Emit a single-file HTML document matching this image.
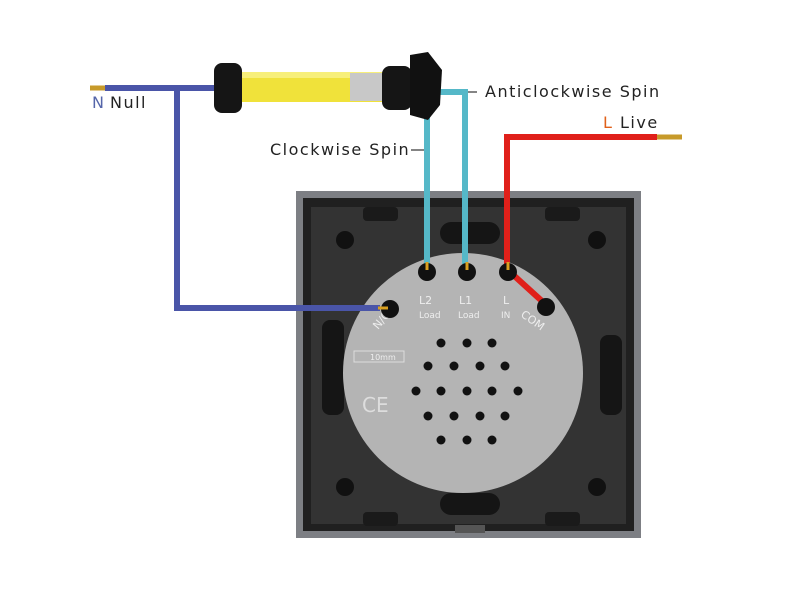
<!DOCTYPE html>
<html><head><meta charset="utf-8"><style>
html,body{margin:0;padding:0;background:#fff;}
svg{display:block;}
text{font-family:"DejaVu Sans","Liberation Sans",sans-serif;}
.lb{font-size:16px;letter-spacing:1.5px;}
</style></head><body>
<svg width="800" height="600" viewBox="0 0 800 600" xmlns="http://www.w3.org/2000/svg">
<rect x="296" y="191" width="345" height="347" fill="#7d7f84"/>
<rect x="303" y="198" width="331" height="333" fill="#202020"/>
<rect x="311" y="207" width="315" height="317" fill="#333"/>
<circle cx="345" cy="240" r="9" fill="#111"/>
<circle cx="597" cy="240" r="9" fill="#111"/>
<circle cx="345" cy="487" r="9" fill="#111"/>
<circle cx="597" cy="487" r="9" fill="#111"/>
<rect x="363" y="207" width="35" height="14" rx="4" fill="#1a1a1a"/>
<rect x="545" y="207" width="35" height="14" rx="4" fill="#1a1a1a"/>
<rect x="363" y="512" width="35" height="14" rx="4" fill="#1a1a1a"/>
<rect x="545" y="512" width="35" height="14" rx="4" fill="#1a1a1a"/>
<rect x="440" y="222" width="60" height="22" rx="11" fill="#151515"/>
<rect x="440" y="493" width="60" height="22" rx="11" fill="#151515"/>
<rect x="322" y="320" width="22" height="95" rx="8" fill="#151515"/>
<rect x="600" y="335" width="22" height="80" rx="8" fill="#151515"/>
<rect x="455" y="525" width="30" height="8" fill="#555"/>
<circle cx="463" cy="373" r="120" fill="#b4b4b4"/>
<g fill="#111">
<circle cx="441" cy="343" r="4.5"/><circle cx="467" cy="343" r="4.5"/><circle cx="492" cy="343" r="4.5"/>
<circle cx="428" cy="366" r="4.5"/><circle cx="454" cy="366" r="4.5"/><circle cx="480" cy="366" r="4.5"/><circle cx="505" cy="366" r="4.5"/>
<circle cx="416" cy="391" r="4.5"/><circle cx="441" cy="391" r="4.5"/><circle cx="467" cy="391" r="4.5"/><circle cx="492" cy="391" r="4.5"/><circle cx="518" cy="391" r="4.5"/>
<circle cx="428" cy="416" r="4.5"/><circle cx="454" cy="416" r="4.5"/><circle cx="480" cy="416" r="4.5"/><circle cx="505" cy="416" r="4.5"/>
<circle cx="441" cy="440" r="4.5"/><circle cx="467" cy="440" r="4.5"/><circle cx="492" cy="440" r="4.5"/>
</g>
<rect x="354" y="351" width="50" height="11" fill="none" stroke="#ddd" stroke-width="1"/>
<text x="370" y="360" font-size="8" fill="#eee">10mm</text>
<text x="362" y="412" font-size="20" fill="#ddd" font-family="Liberation Sans,sans-serif">CE</text>
<g font-family="Liberation Serif,serif" fill="#eee" font-size="11">
<text x="419" y="304">L2</text><text x="419" y="318" font-size="9">Load</text>
<text x="459" y="304">L1</text><text x="458" y="318" font-size="9">Load</text>
<text x="503" y="304">L</text><text x="501" y="318" font-size="9">IN</text>
<text x="520" y="316" transform="rotate(35 520 316)">COM</text>
<text x="378" y="330" transform="rotate(-50 378 330)">N/C</text>
</g>
<g fill="none" stroke-linejoin="miter">
<polyline points="215,88 177,88 177,308 380,308" stroke="#4a55a8" stroke-width="6"/>
<line x1="90" y1="88" x2="105" y2="88" stroke="#c79a2a" stroke-width="5"/>
<line x1="105" y1="88" x2="215" y2="88" stroke="#4a55a8" stroke-width="6"/>
<polyline points="430,92 465,92 465,264" stroke="#55b8c8" stroke-width="6"/>
<polyline points="427,115 427,264" stroke="#55b8c8" stroke-width="6"/>
<polyline points="657,137 507,137 507,264" stroke="#e0201a" stroke-width="6"/>
<line x1="657" y1="137" x2="682" y2="137" stroke="#c79a2a" stroke-width="5"/>
<line x1="510" y1="272" x2="543" y2="302" stroke="#e0201a" stroke-width="6"/>
</g>
<g fill="#111">
<circle cx="427" cy="272" r="9"/><circle cx="467" cy="272" r="9"/><circle cx="508" cy="272" r="9"/>
<circle cx="546" cy="307" r="9"/><circle cx="390" cy="309" r="9"/>
</g>
<g stroke="#d9a020" stroke-width="3">
<line x1="427" y1="262" x2="427" y2="270"/><line x1="467" y1="262" x2="467" y2="270"/><line x1="508" y1="262" x2="508" y2="270"/>
<line x1="378" y1="308" x2="388" y2="308"/>
</g>
<rect x="228" y="72" width="165" height="30" rx="6" fill="#f0e23a"/>
<rect x="228" y="72" width="165" height="6" fill="#f7ef7a"/>
<rect x="350" y="73" width="42" height="28" fill="#c8c8c8"/>
<rect x="214" y="63" width="28" height="50" rx="8" fill="#151515"/>
<rect x="382" y="66" width="30" height="44" rx="8" fill="#151515"/>
<polygon points="410,55 428,52 442,70 440,105 428,120 410,115" fill="#111"/>
<text class="lb" x="92" y="108" fill="#5566aa">N</text>
<text class="lb" x="110" y="108" fill="#222">Null</text>
<text class="lb" x="270" y="155" fill="#222">Clockwise Spin</text>
<line x1="411" y1="150" x2="424" y2="150" stroke="#333" stroke-width="1.2"/>
<line x1="468" y1="92" x2="477" y2="92" stroke="#333" stroke-width="1.2"/>
<text class="lb" x="485" y="97" fill="#222">Anticlockwise Spin</text>
<text class="lb" x="603" y="128" fill="#e0601a">L</text>
<text class="lb" x="620" y="128" fill="#222">Live</text>
</svg>
</body></html>
